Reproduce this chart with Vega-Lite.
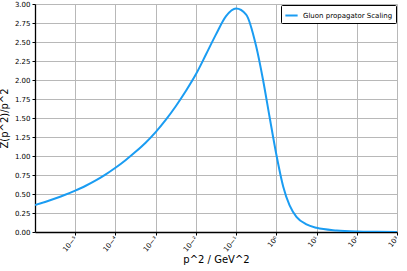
{
  "$schema": "https://vega.github.io/schema/vega-lite/v6.json",
  "width": 362,
  "height": 228,
  "autosize": {"type": "none"},
  "padding": {"left": 35, "top": 4, "right": 10, "bottom": 39},
  "background": "white",
  "config": {
    "view": {"stroke": null},
    "font": "DejaVu Sans",
    "axis": {
      "gridColor": "#b8b8b8",
      "gridWidth": 1,
      "gridOpacity": 1,
      "domainColor": "black",
      "domainWidth": 1.3,
      "tickColor": "black",
      "tickSize": 3,
      "labelColor": "black",
      "titleColor": "black",
      "titleFontWeight": "normal",
      "labelFont": "DejaVu Sans",
      "titleFont": "DejaVu Sans"
    }
  },
  "data": {
    "values": [
      {"p2": 1e-6, "z": 0.355, "series": "Gluon propagator Scaling"},
      {"p2": 1.778e-6, "z": 0.395, "series": "Gluon propagator Scaling"},
      {"p2": 3.162e-6, "z": 0.44, "series": "Gluon propagator Scaling"},
      {"p2": 5.623e-6, "z": 0.49, "series": "Gluon propagator Scaling"},
      {"p2": 1e-5, "z": 0.545, "series": "Gluon propagator Scaling"},
      {"p2": 1.778e-5, "z": 0.605, "series": "Gluon propagator Scaling"},
      {"p2": 3.162e-5, "z": 0.675, "series": "Gluon propagator Scaling"},
      {"p2": 5.623e-5, "z": 0.755, "series": "Gluon propagator Scaling"},
      {"p2": 1e-4, "z": 0.845, "series": "Gluon propagator Scaling"},
      {"p2": 1.778e-4, "z": 0.945, "series": "Gluon propagator Scaling"},
      {"p2": 3.162e-4, "z": 1.055, "series": "Gluon propagator Scaling"},
      {"p2": 5.623e-4, "z": 1.175, "series": "Gluon propagator Scaling"},
      {"p2": 1e-3, "z": 1.315, "series": "Gluon propagator Scaling"},
      {"p2": 1.778e-3, "z": 1.475, "series": "Gluon propagator Scaling"},
      {"p2": 3.162e-3, "z": 1.655, "series": "Gluon propagator Scaling"},
      {"p2": 5.623e-3, "z": 1.855, "series": "Gluon propagator Scaling"},
      {"p2": 1e-2, "z": 2.075, "series": "Gluon propagator Scaling"},
      {"p2": 1.778e-2, "z": 2.335, "series": "Gluon propagator Scaling"},
      {"p2": 3.162e-2, "z": 2.6, "series": "Gluon propagator Scaling"},
      {"p2": 5.623e-2, "z": 2.84, "series": "Gluon propagator Scaling"},
      {"p2": 0.1, "z": 2.94, "series": "Gluon propagator Scaling"},
      {"p2": 0.1778, "z": 2.86, "series": "Gluon propagator Scaling"},
      {"p2": 0.3162, "z": 2.44, "series": "Gluon propagator Scaling"},
      {"p2": 0.4677, "z": 2.0, "series": "Gluon propagator Scaling"},
      {"p2": 0.6761, "z": 1.52, "series": "Gluon propagator Scaling"},
      {"p2": 1.0, "z": 1.02, "series": "Gluon propagator Scaling"},
      {"p2": 1.479, "z": 0.6, "series": "Gluon propagator Scaling"},
      {"p2": 2.138, "z": 0.35, "series": "Gluon propagator Scaling"},
      {"p2": 3.162, "z": 0.2, "series": "Gluon propagator Scaling"},
      {"p2": 5.623, "z": 0.1, "series": "Gluon propagator Scaling"},
      {"p2": 10, "z": 0.055, "series": "Gluon propagator Scaling"},
      {"p2": 31.62, "z": 0.02, "series": "Gluon propagator Scaling"},
      {"p2": 100, "z": 0.007, "series": "Gluon propagator Scaling"},
      {"p2": 316.2, "z": 0.003, "series": "Gluon propagator Scaling"},
      {"p2": 1000, "z": 0.001, "series": "Gluon propagator Scaling"}
    ]
  },
  "mark": {"type": "line", "interpolate": "monotone", "strokeWidth": 2, "clip": true},
  "encoding": {
    "x": {
      "field": "p2",
      "type": "quantitative",
      "scale": {"type": "log", "domain": [1e-6, 1000], "nice": false},
      "axis": {
        "title": "p^2 / GeV^2",
        "titleFontSize": 10,
        "titlePadding": 2,
        "values": [1e-5, 1e-4, 1e-3, 1e-2, 1e-1, 1, 10, 100, 1000],
        "labelExpr": "'10' + replace(replace(replace(replace(replace(replace(replace(format(log(datum.value)/log(10), 'd'), '-', '⁻'), '0', '⁰'), '1', '¹'), '2', '²'), '3', '³'), '4', '⁴'), '5', '⁵')",
        "labelAngle": -50,
        "labelAlign": "right",
        "labelBaseline": "middle",
        "labelFontSize": 7,
        "labelPadding": 2
      }
    },
    "y": {
      "field": "z",
      "type": "quantitative",
      "scale": {"domain": [0, 3], "nice": false},
      "axis": {
        "title": "Z(p^2)/p^2",
        "titleFontSize": 10,
        "titlePadding": 5,
        "values": [0, 0.25, 0.5, 0.75, 1, 1.25, 1.5, 1.75, 2, 2.25, 2.5, 2.75, 3],
        "format": ".2f",
        "labelFontSize": 7,
        "labelPadding": 2
      }
    },
    "color": {
      "field": "series",
      "type": "nominal",
      "scale": {"range": ["#1a9cf2"]},
      "legend": {
        "title": null,
        "orient": "top-right",
        "offset": 1,
        "symbolType": "stroke",
        "symbolStrokeWidth": 2,
        "symbolSize": 150,
        "labelFontSize": 7,
        "labelColor": "black",
        "strokeColor": "black",
        "fillColor": "white",
        "padding": 3,
        "cornerRadius": 1
      }
    }
  }
}
